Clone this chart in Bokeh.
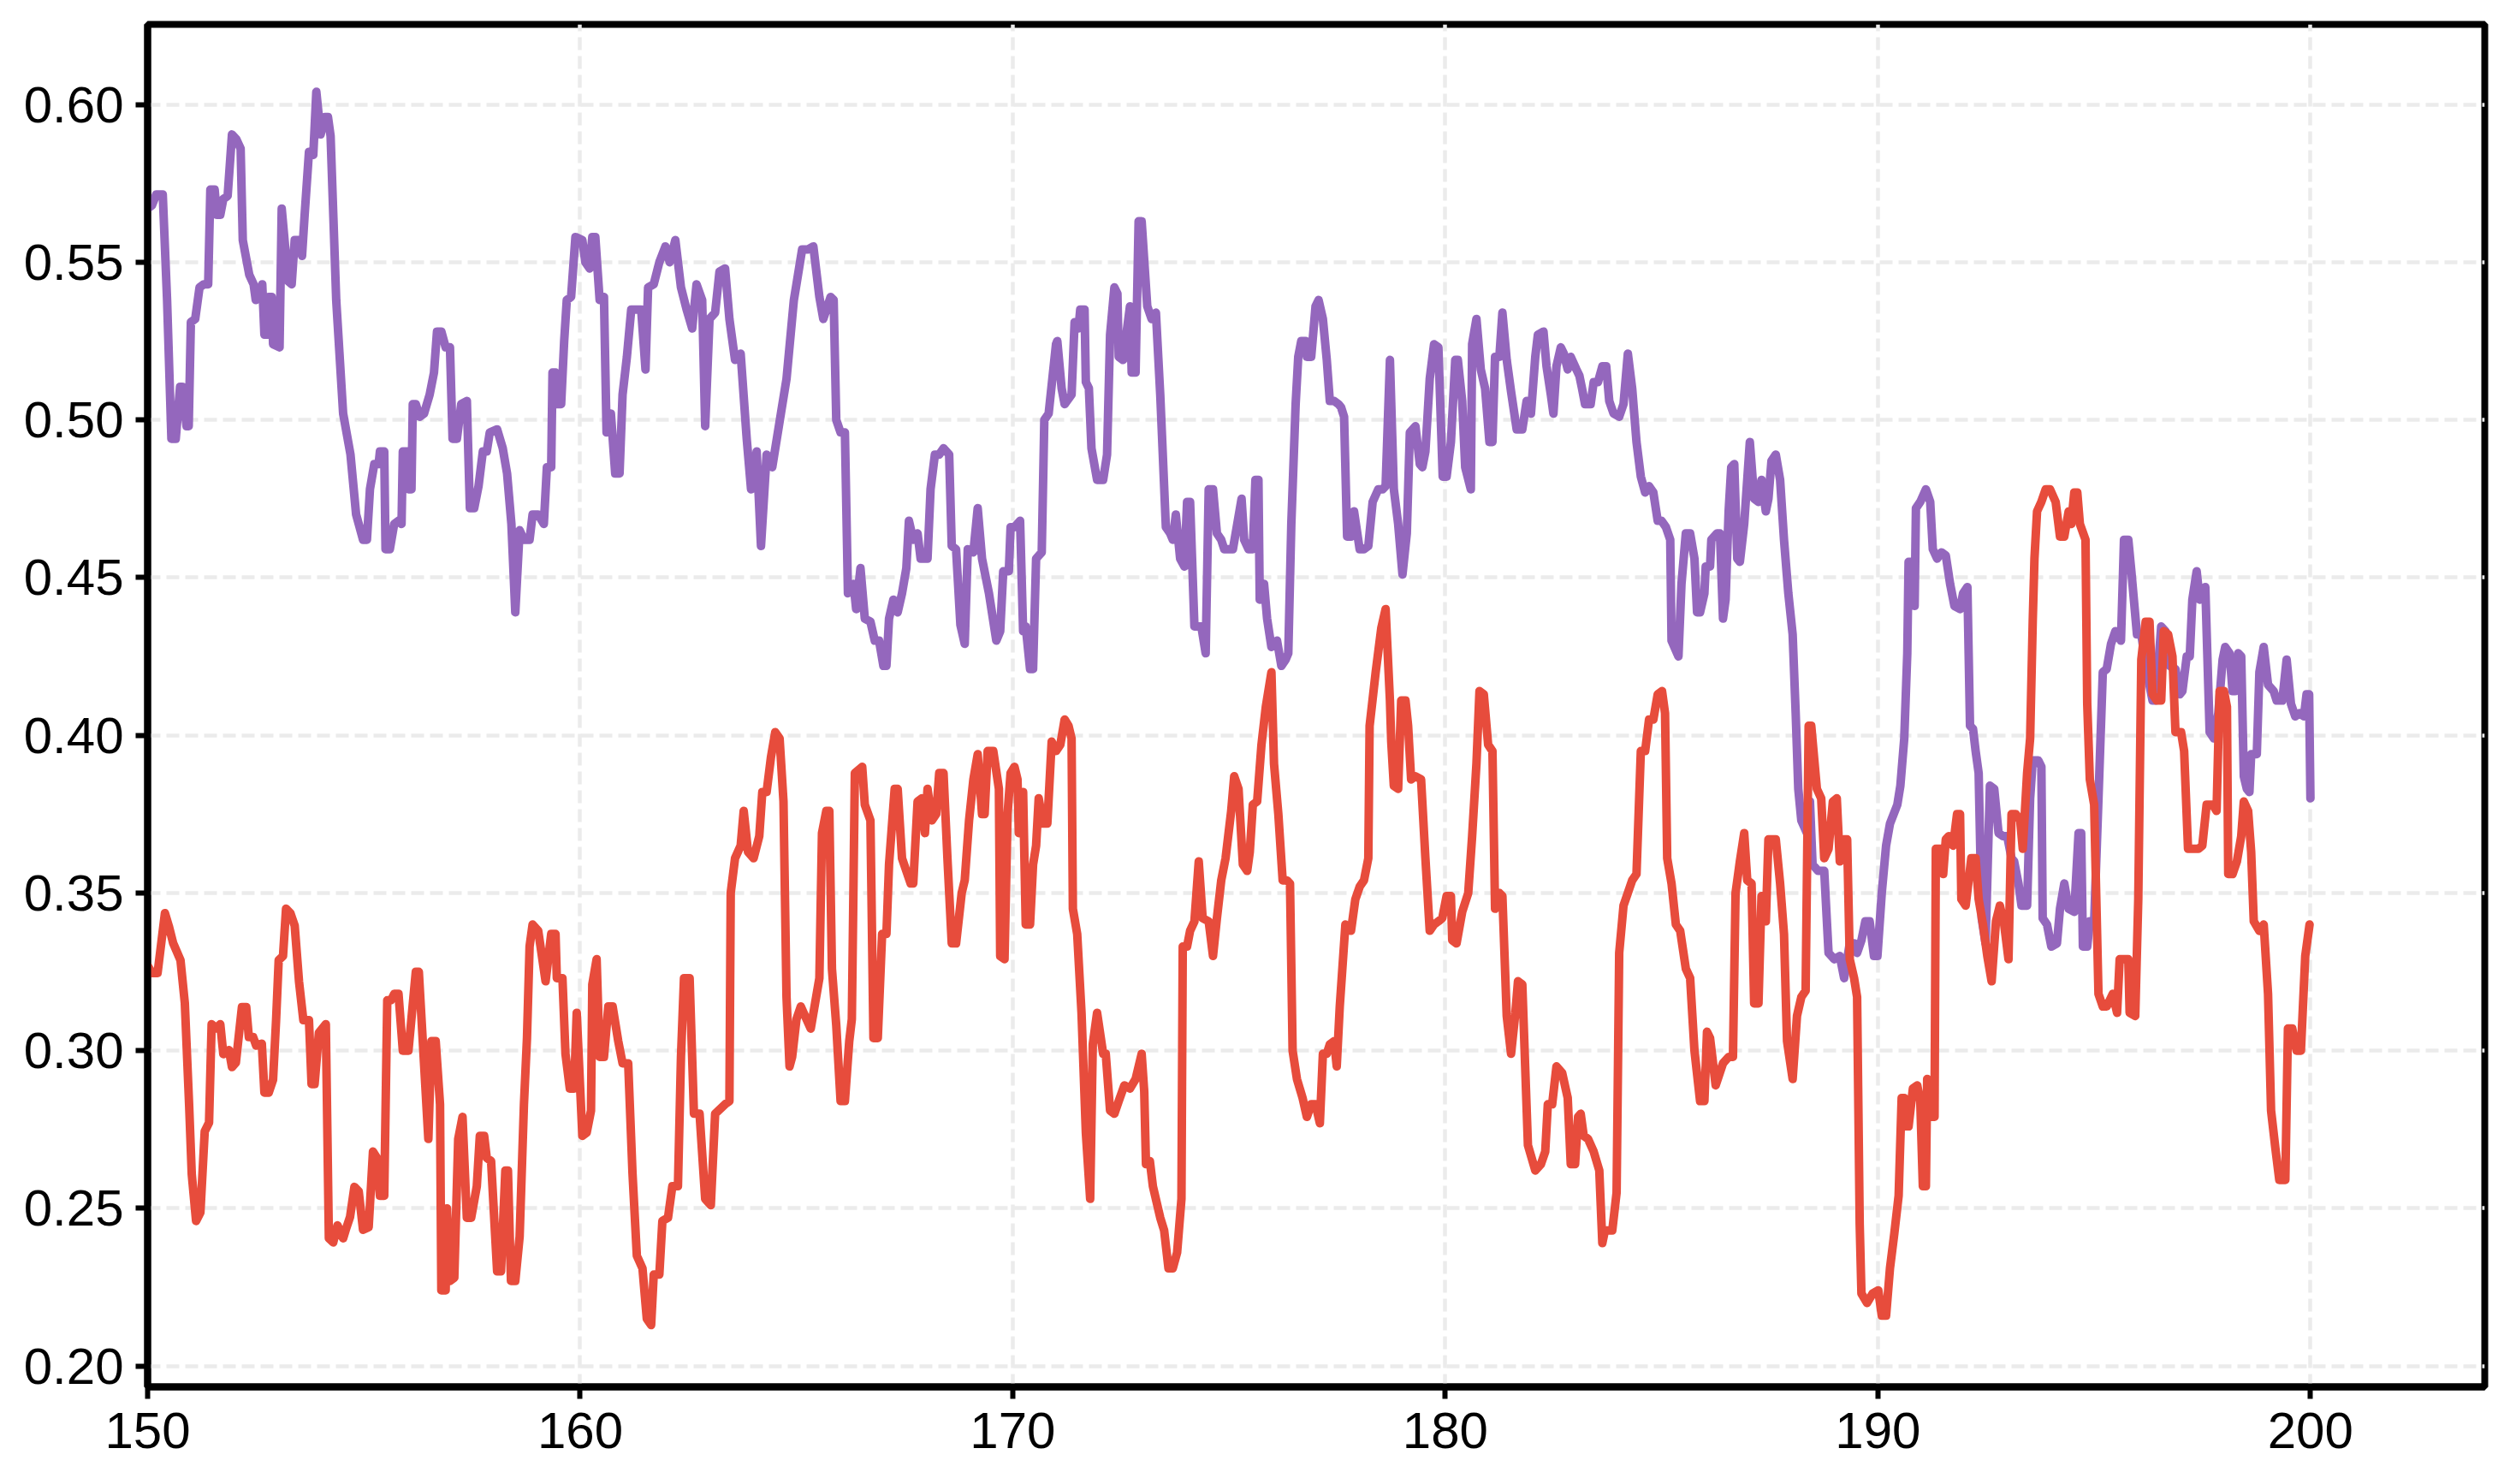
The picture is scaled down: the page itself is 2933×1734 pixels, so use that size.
from bokeh.plotting import figure
from bokeh.models import Range1d, FixedTicker, PrintfTickFormatter
from bokeh.embed import file_html
from bokeh.resources import INLINE

# ---------------- data ----------------
purple_x = [
    150.00,150.10,150.20,150.35,150.45,150.55,150.65,150.75,150.80,150.90,
    150.95,151.00,151.10,151.20,151.30,151.40,151.45,151.55,151.60,151.68,
    151.75,151.85,151.95,152.05,152.15,152.20,152.35,152.45,152.50,152.65,
    152.70,152.77,152.80,152.87,152.90,153.05,153.10,153.25,153.33,153.40,
    153.53,153.57,153.63,153.73,153.83,153.90,154.00,154.10,154.17,154.23,
    154.36,154.52,154.69,154.82,154.98,
    155.07,155.14,155.24,155.34,155.37,155.47,155.50,155.60,155.70,155.80,
    155.87,155.90,156.00,156.03,156.10,156.13,156.20,156.29,156.39,156.52,
    156.62,156.69,156.79,156.89,156.99,157.05,157.15,157.25,157.38,157.45,
    157.55,157.65,157.75,157.84,157.91,158.08,158.21,158.31,158.41,158.50,
    158.60,158.70,158.83,158.90,159.03,159.16,159.23,159.33,159.36,159.43,
    159.46,159.56,159.63,159.69,159.79,159.89,
    160.05,160.12,160.22,160.28,160.35,160.45,160.55,160.61,160.71,160.81,
    160.91,160.98,161.08,161.18,161.41,161.51,161.57,161.70,161.83,161.97,
    162.07,162.20,162.33,162.46,162.59,162.69,162.82,162.89,162.99,163.12,
    163.22,163.35,163.45,163.58,163.71,163.85,163.95,164.08,164.18,164.31,
    164.44,164.64,164.77,164.94,
    165.00,165.13,165.26,165.39,165.53,165.62,165.79,165.86,165.92,166.02,
    166.12,166.19,166.32,166.38,166.48,166.58,166.71,166.81,166.91,167.01,
    167.08,167.14,167.24,167.34,167.44,167.54,167.60,167.70,167.80,167.87,
    168.03,168.10,168.20,168.30,168.40,168.53,168.59,168.69,168.79,168.89,
    168.96,169.09,169.19,169.29,169.45,169.62,169.71,169.78,169.91,169.95,
    170.04,170.17,170.24,170.30,170.40,170.47,170.54,170.67,170.73,170.83,
    171.00,171.03,171.13,171.20,171.36,171.43,171.52,171.56,171.66,171.69,
    171.76,171.82,171.95,172.09,172.18,172.25,172.35,172.42,172.45,172.55,
    172.71,172.75,172.84,172.91,172.98,173.11,173.21,173.31,173.41,173.54,
    173.64,173.70,173.77,173.87,173.97,174.03,174.10,174.20,174.30,174.36,
    174.46,174.53,174.63,174.72,174.82,174.89,
    175.09,175.19,175.29,175.35,175.45,175.55,175.61,175.68,175.71,175.81,
    175.88,175.98,176.11,176.21,176.31,176.37,176.44,176.54,176.60,176.67,
    176.77,176.80,176.90,177.00,177.07,177.17,177.26,177.33,177.43,177.53,
    177.59,177.66,177.73,177.82,177.89,178.02,178.12,178.22,178.32,178.45,
    178.55,178.62,178.72,178.81,178.91,179.01,179.11,179.18,179.31,179.41,
    179.47,179.54,179.64,179.74,179.84,179.94,
    180.03,180.13,180.23,180.29,180.39,180.46,180.59,180.62,180.72,180.82,
    180.92,181.02,181.09,181.15,181.25,181.32,181.42,181.52,181.65,181.78,
    181.88,181.98,182.08,182.14,182.27,182.34,182.44,182.50,182.57,182.67,
    182.74,182.83,182.90,183.03,183.10,183.16,183.23,183.36,183.43,183.53,
    183.63,183.72,183.79,183.89,184.02,184.12,184.22,184.32,184.42,184.52,
    184.62,184.71,184.81,184.91,
    185.00,185.10,185.20,185.23,185.39,185.46,185.56,185.66,185.76,185.82,
    185.89,185.99,186.02,186.12,186.15,186.28,186.35,186.42,186.48,186.55,
    186.61,186.68,186.75,186.81,186.91,187.04,187.14,187.24,187.31,187.41,
    187.47,187.54,187.64,187.74,187.83,187.93,188.03,188.10,188.16,188.23,
    188.36,188.43,188.49,188.62,188.76,188.86,188.99,189.12,189.22,189.35,
    189.45,189.52,189.62,189.71,189.81,189.91,
    189.99,190.09,190.19,190.28,190.45,190.52,190.61,190.68,190.71,190.78,
    190.85,190.88,190.98,191.11,191.21,191.27,191.37,191.47,191.57,191.67,
    191.77,191.90,191.97,192.07,192.13,192.20,192.26,192.33,192.40,192.49,
    192.59,192.69,192.79,192.89,192.99,193.09,193.15,193.25,193.32,193.45,
    193.52,193.58,193.71,193.78,193.81,193.91,194.01,194.14,194.21,194.31,
    194.41,194.54,194.64,194.70,194.74,194.84,194.90,
    195.00,195.10,195.20,195.29,195.39,195.49,195.62,195.69,195.79,195.86,
    195.99,196.09,196.22,196.35,196.42,196.55,196.65,196.75,196.88,196.98,
    197.04,197.14,197.21,197.27,197.37,197.44,197.57,197.67,197.77,197.87,
    197.97,198.03,198.13,198.20,198.26,198.33,198.40,198.46,198.53,198.59,
    198.63,198.76,198.82,198.92,199.02,199.15,199.22,199.35,199.45,199.55,
    199.65,199.75,199.85,199.91,199.97,200.00,
]
purple_y = [
    .567,.568,.5715,.5715,.538,.494,.494,.5105,.5105,.498,
    .498,.531,.532,.542,.543,.543,.573,.573,.565,.565,
    .570,.571,.5905,.589,.586,.557,.546,.543,.538,.543,
    .527,.527,.539,.539,.524,.523,.567,.544,.543,.557,
    .557,.552,.565,.585,.584,.604,.5905,.596,.596,.590,
    .538,.502,.489,.470,.462,
    .462,.478,.486,.486,.490,.490,.459,.459,.467,.468,
    .467,.490,.490,.478,.478,.505,.505,.501,.502,.508,
    .515,.528,.528,.523,.523,.494,.494,.505,.506,.472,
    .472,.479,.490,.490,.496,.497,.491,.483,.467,.439,
    .465,.462,.462,.470,.470,.467,.485,.485,.515,.515,
    .505,.505,.525,.538,.539,.558,
    .557,.550,.548,.558,.558,.538,.539,.496,.502,.483,
    .483,.508,.520,.535,.535,.516,.542,.543,.550,.555,
    .550,.557,.542,.535,.529,.543,.538,.498,.532,.534,
    .547,.548,.532,.519,.521,.494,.478,.490,.460,.489,
    .485,.502,.513,.538,
    .543,.554,.554,.555,.539,.532,.539,.538,.500,.496,
    .496,.445,.448,.440,.453,.437,.436,.430,.430,.422,
    .422,.437,.443,.439,.445,.453,.468,.462,.464,.456,
    .456,.478,.489,.489,.491,.489,.460,.459,.435,.429,
    .459,.458,.472,.456,.445,.430,.433,.452,.452,.466,
    .466,.468,.433,.4345,.421,.421,.456,.458,.500,.502,
    .524,.525,.510,.505,.508,.531,.529,.535,.535,.512,
    .510,.491,.481,.481,.489,.527,.542,.540,.520,.519,
    .536,.515,.515,.563,.563,.536,.532,.534,.508,.466,
    .464,.462,.470,.456,.4535,.474,.474,.4345,.4345,.4345,
    .426,.478,.478,.464,.462,.459,
    .459,.467,.475,.462,.459,.459,.481,.481,.443,.448,
    .437,.428,.430,.422,.424,.426,.467,.505,.520,.525,
    .525,.520,.520,.536,.538,.532,.519,.506,.506,.505,
    .504,.501,.463,.463,.471,.459,.459,.460,.474,.478,
    .478,.479,.519,.478,.467,.451,.464,.496,.498,.486,
    .485,.490,.513,.524,.523,.482,
    .482,.493,.519,.519,.506,.485,.478,.524,.532,.516,
    .510,.493,.493,.520,.520,.534,.519,.509,.497,.497,
    .506,.502,.520,.527,.528,.517,.508,.502,.517,.523,
    .521,.516,.520,.516,.514,.510,.505,.505,.512,.512,
    .517,.517,.506,.502,.501,.505,.521,.510,.493,.482,
    .477,.479,.477,.468,
    .468,.466,.462,.430,.425,.448,.464,.464,.456,.439,
    .439,.445,.4535,.4535,.462,.464,.464,.437,.443,.471,
    .485,.486,.456,.455,.467,.493,.475,.474,.481,.471,
    .475,.487,.489,.481,.462,.445,.432,.407,.383,.373,
    .369,.379,.359,.357,.357,.331,.329,.330,.323,.334,
    .334,.331,.335,.341,.341,.330,
    .330,.350,.365,.372,.378,.384,.399,.426,.455,.455,
    .441,.472,.474,.478,.474,.459,.456,.458,.457,.448,
    .441,.440,.445,.447,.403,.402,.395,.388,.342,.334,
    .384,.383,.369,.368,.368,.361,.360,.353,.346,.346,
    .380,.392,.392,.390,.342,.340,.333,.334,.345,.353,
    .345,.344,.369,.369,.333,.333,.341,
    .341,.380,.420,.421,.429,.433,.430,.462,.462,.452,
    .432,.432,.420,.411,.411,.4345,.433,.422,.421,.413,
    .414,.425,.425,.443,.452,.443,.447,.401,.399,.407,
    .424,.428,.426,.414,.414,.426,.425,.387,.383,.382,
    .394,.394,.420,.428,.416,.414,.411,.411,.424,.410,
    .406,.407,.406,.413,.413,.380,
]

red_x = [
    150.00,150.10,150.23,150.40,150.49,150.59,150.76,150.86,150.96,151.02,
    151.12,151.22,151.32,151.42,151.48,151.58,151.68,151.75,151.88,151.95,
    152.04,152.18,152.28,152.34,152.44,152.51,152.64,152.70,152.80,152.90,
    152.97,153.03,153.13,153.20,153.30,153.40,153.50,153.60,153.73,153.79,
    153.86,153.96,154.12,154.19,154.29,154.39,154.52,154.58,154.68,154.78,
    154.88,154.98,
    155.11,155.21,155.30,155.37,155.47,155.54,155.63,155.70,155.80,155.90,
    156.03,156.20,156.27,156.39,156.49,156.56,156.66,156.76,156.79,156.89,
    156.92,156.99,157.09,157.18,157.28,157.38,157.48,157.61,157.68,157.78,
    157.84,157.94,158.08,158.17,158.27,158.33,158.40,158.50,158.60,158.70,
    158.77,158.83,158.90,159.03,159.20,159.33,159.43,159.46,159.59,159.66,
    159.76,159.86,159.92,
    160.05,160.15,160.25,160.28,160.38,160.45,160.55,160.65,160.75,160.88,
    160.98,161.11,161.21,161.31,161.44,161.54,161.64,161.70,161.83,161.90,
    162.03,162.13,162.26,162.33,162.40,162.53,162.63,162.76,162.89,163.02,
    163.12,163.35,163.45,163.48,163.58,163.71,163.78,163.88,164.01,164.14,
    164.21,164.31,164.41,164.51,164.61,164.70,164.77,164.84,164.90,
    165.00,165.10,165.23,165.33,165.43,165.53,165.59,165.69,165.76,165.82,
    165.92,166.02,166.12,166.22,166.28,166.35,166.52,166.58,166.71,166.78,
    166.88,166.98,167.08,167.14,167.27,167.34,167.44,167.54,167.64,167.70,
    167.80,167.90,167.97,168.03,168.13,168.23,168.30,168.40,168.49,168.59,
    168.69,168.82,168.89,168.99,169.09,169.19,169.29,169.35,169.42,169.55,
    169.68,169.71,169.81,169.88,169.95,
    170.04,170.11,170.14,170.24,170.30,170.40,170.47,170.54,170.60,170.70,
    170.80,170.90,171.00,171.10,171.20,171.29,171.36,171.39,171.49,171.59,
    171.69,171.79,171.85,171.95,172.09,172.15,172.25,172.35,172.45,172.58,
    172.71,172.84,172.98,173.04,173.08,173.17,173.24,173.41,173.50,173.60,
    173.70,173.80,173.90,173.93,174.03,174.10,174.20,174.30,174.39,174.53,
    174.63,174.72,174.82,174.92,
    175.05,175.12,175.22,175.32,175.42,175.48,175.55,175.65,175.75,175.85,
    175.98,176.04,176.14,176.24,176.34,176.41,176.47,176.57,176.70,176.80,
    176.90,177.00,177.10,177.17,177.26,177.33,177.43,177.49,177.56,177.69,
    177.82,177.92,178.02,178.12,178.22,178.25,178.39,178.52,178.62,178.72,
    178.75,178.81,178.91,178.98,179.08,179.14,179.21,179.31,179.44,179.54,
    179.64,179.74,179.84,179.93,
    180.03,180.13,180.16,180.26,180.39,180.53,180.62,180.72,180.79,180.89,
    180.99,181.09,181.15,181.25,181.32,181.42,181.52,181.62,181.68,181.78,
    181.91,182.08,182.21,182.31,182.37,182.47,182.57,182.70,182.83,182.90,
    183.00,183.07,183.13,183.20,183.30,183.43,183.56,183.63,183.69,183.86,
    183.96,184.02,184.12,184.22,184.32,184.42,184.52,184.62,184.71,184.81,
    184.91,185.01,
    185.08,185.13,185.23,185.33,185.43,185.56,185.66,185.76,185.89,185.99,
    186.05,186.12,186.19,186.25,186.42,186.55,186.65,186.71,186.81,186.91,
    186.98,187.08,187.14,187.24,187.31,187.41,187.47,187.64,187.74,187.83,
    187.90,188.03,188.13,188.23,188.33,188.40,188.46,188.59,188.69,188.76,
    188.86,188.96,189.05,189.12,189.22,189.29,189.35,189.45,189.52,189.58,
    189.62,189.75,189.88,190.01,
    190.09,190.19,190.28,190.38,190.48,190.55,190.61,190.65,190.71,190.81,
    190.91,190.98,191.04,191.11,191.14,191.24,191.31,191.34,191.44,191.51,
    191.57,191.64,191.74,191.83,191.90,191.93,192.03,192.16,192.26,192.33,
    192.43,192.53,192.63,192.73,192.82,192.92,193.02,193.09,193.19,193.29,
    193.35,193.45,193.52,193.58,193.62,193.68,193.78,193.88,193.98,194.11,
    194.21,194.31,194.41,194.47,194.54,194.61,194.67,194.80,194.84,194.90,
    195.00,
    195.10,195.20,195.29,195.43,195.53,195.59,195.69,195.79,195.82,195.95,
    196.02,196.09,196.19,196.28,196.35,196.45,196.55,196.61,196.71,196.81,
    196.88,197.01,197.08,197.17,197.27,197.41,197.50,197.60,197.74,197.83,
    197.90,198.00,198.07,198.10,198.20,198.30,198.40,198.46,198.56,198.63,
    198.69,198.82,198.92,199.02,199.09,199.19,199.28,199.42,199.48,199.58,
    199.68,199.78,199.88,199.98,
]
red_y = [
    .327,.3246,.3246,.3436,.3395,.3341,.3287,.3151,.2826,.2609,
    .2460,.2487,.2744,.2772,.3084,.3070,.3084,.2989,.3002,.2948,
    .2962,.3138,.3138,.3043,.3043,.3016,.3022,.2867,.2867,.2908,
    .3097,.3287,.3300,.3450,.3436,.3396,.3219,.3097,.3097,.2894,
    .2894,.3057,.3084,.2405,.2392,.2446,.2405,.2432,.2473,.2568,
    .2554,.2432,
    .244,.268,.266,.254,.254,.316,.316,.318,.318,.300,
    .300,.325,.325,.296,.272,.303,.303,.283,.224,.224,
    .250,.227,.228,.272,.279,.247,.247,.257,.273,.273,
    .266,.265,.230,.230,.262,.262,.227,.227,.241,.283,
    .304,.333,.340,.338,.322,.337,.337,.323,.323,.299,
    .288,.288,.312,
    .273,.274,.281,.321,.329,.298,.298,.314,.314,.303,
    .296,.296,.261,.235,.231,.215,.213,.229,.229,.246,
    .247,.257,.257,.298,.323,.323,.280,.280,.253,.251,
    .280,.283,.284,.350,.361,.365,.376,.363,.361,.368,
    .382,.382,.393,.401,.399,.379,.317,.295,.298,
    .310,.314,.310,.307,.315,.323,.369,.376,.376,.326,
    .308,.284,.284,.303,.310,.388,.390,.378,.373,.304,
    .304,.337,.337,.359,.383,.383,.361,.357,.353,.353,
    .379,.380,.369,.383,.373,.375,.388,.388,.361,.334,
    .334,.350,.354,.373,.386,.394,.375,.375,.395,.395,
    .383,.330,.329,.375,.388,
    .390,.386,.369,.382,.340,.340,.359,.365,.380,.372,
    .372,.398,.395,.397,.405,.403,.399,.345,.337,.312,
    .274,.253,.302,.312,.299,.299,.281,.280,.284,.289,
    .288,.291,.299,.287,.264,.265,.257,.247,.243,.231,
    .231,.236,.253,.333,.333,.338,.341,.360,.342,.341,
    .330,.342,.354,.361,
    .376,.387,.383,.359,.357,.363,.378,.379,.397,.409,
    .420,.391,.375,.354,.354,.353,.300,.291,.285,.279,
    .283,.283,.277,.299,.299,.302,.303,.295,.314,.340,
    .338,.348,.352,.354,.361,.403,.420,.434,.440,.411,
    .398,.384,.383,.411,.411,.403,.386,.387,.386,.361,
    .338,.340,.341,.342,
    .349,.349,.335,.334,.344,.350,.368,.391,.414,.413,
    .397,.395,.345,.350,.349,.311,.299,.312,.322,.321,
    .270,.262,.264,.268,.283,.283,.295,.293,.285,.264,
    .264,.279,.280,.273,.272,.268,.262,.239,.243,.243,
    .255,.331,.346,.350,.354,.356,.395,.395,.405,.405,
    .413,.414,
    .407,.361,.353,.340,.338,.326,.323,.300,.284,.284,
    .306,.304,.296,.289,.296,.298,.298,.350,.360,.369,
    .354,.353,.315,.315,.349,.341,.367,.367,.353,.337,
    .303,.291,.311,.317,.319,.403,.403,.383,.380,.361,
    .364,.379,.380,.360,.367,.367,.329,.323,.317,.245,
    .223,.220,.223,.224,
    .216,.216,.231,.242,.254,.285,.285,.276,.276,.288,
    .289,.284,.257,.257,.291,.279,.279,.364,.364,.356,
    .367,.368,.365,.375,.375,.348,.346,.361,.361,.348,
    .340,.330,.322,.341,.346,.340,.329,.375,.375,.373,
    .364,.388,.399,.436,.456,.471,.474,.478,.478,.474,
    .463,.463,.471,.467,.477,.477,.467,.462,.410,.386,
    .378,
    .318,.314,.314,.318,.312,.329,.329,.329,.312,.311,
    .348,.424,.436,.436,.413,.411,.411,.433,.432,.425,
    .401,.401,.395,.364,.364,.364,.365,.378,.378,.376,
    .414,.414,.409,.356,.356,.360,.368,.379,.376,.363,
    .341,.338,.340,.318,.281,.269,.259,.259,.307,.307,
    .300,.300,.330,.340,
]

x_ticks = [150, 160, 170, 180, 190, 200]
y_ticks = [0.20, 0.25, 0.30, 0.35, 0.40, 0.45, 0.50, 0.55, 0.60]

PURPLE = "#9467bd"
RED = "#e74c3c"

n_p = min(len(purple_x), len(purple_y))
n_r = min(len(red_x), len(red_y))

# ---------------- figure ----------------
p = figure(width=2917, height=1718, output_backend="svg", toolbar_location=None,
           x_range=Range1d(150, 204.03), y_range=Range1d(0.1934, 0.6254),
           min_border_left=172, min_border_right=14,
           min_border_top=28, min_border_bottom=98)

p.background_fill_color = "white"
p.border_fill_color = "white"
p.outline_line_color = "black"
p.outline_line_width = 8

p.line(purple_x[:n_p], purple_y[:n_p], line_color=PURPLE, line_width=10,
       line_join="round", line_cap="round")
p.line(red_x[:n_r], red_y[:n_r], line_color=RED, line_width=10,
       line_join="round", line_cap="round")

p.xaxis.ticker = FixedTicker(ticks=x_ticks)
p.yaxis.ticker = FixedTicker(ticks=y_ticks)
p.yaxis.formatter = PrintfTickFormatter(format="%.2f")

for ax in (p.xaxis[0], p.yaxis[0]):
    ax.axis_line_color = "black"
    ax.axis_line_width = 8
    ax.major_tick_line_color = "black"
    ax.major_tick_line_width = 6
    ax.major_tick_out = 14
    ax.major_tick_in = 0
    ax.minor_tick_line_color = None
    ax.major_label_text_font = "Liberation Sans"
    ax.major_label_text_font_size = "60px"
    ax.major_label_text_color = "black"
p.xaxis.major_label_standoff = 16
p.yaxis.major_label_standoff = 14

p.xgrid.ticker = FixedTicker(ticks=x_ticks)
p.ygrid.ticker = FixedTicker(ticks=y_ticks)
for g in (p.xgrid[0], p.ygrid[0]):
    g.grid_line_color = "#ebebeb"
    g.grid_line_width = 4.5
    g.grid_line_dash = "15 7"

open("out.html", "w").write(file_html(p, INLINE))
